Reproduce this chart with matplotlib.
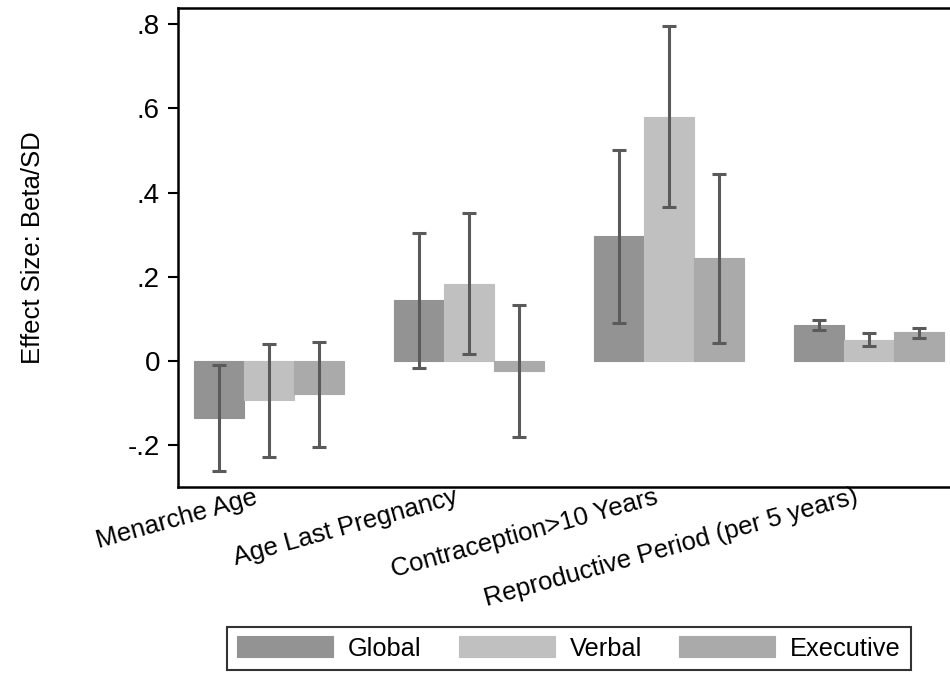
import numpy as np
import matplotlib
matplotlib.use("Agg")
import matplotlib.pyplot as plt
import matplotlib.transforms as mtransforms

plt.rcParams['font.family'] = ['Liberation Sans', 'DejaVu Sans']

categories = ["Menarche Age", "Age Last Pregnancy", "Contraception>10 Years",
              "Reproductive Period (per 5 years)"]
series = ["Global", "Verbal", "Executive"]

global_val = [-0.134, 0.145, 0.297, 0.087]
global_lo = [-0.261, -0.015, 0.091, 0.074]
global_hi = [-0.010, 0.304, 0.501, 0.098]

verbal_val = [-0.093, 0.183, 0.580, 0.050]
verbal_lo = [-0.228, 0.016, 0.365, 0.036]
verbal_hi = [0.040, 0.351, 0.795, 0.066]

exec_val = [-0.078, -0.024, 0.244, 0.069]
exec_lo = [-0.203, -0.180, 0.044, 0.056]
exec_hi = [0.046, 0.133, 0.444, 0.079]

yticks = [-0.2, 0, 0.2, 0.4, 0.6, 0.8]
ytick_labels = ["-.2", "0", ".2", ".4", ".6", ".8"]

colors = ["#939393", "#c0c0c0", "#aaaaaa"]
err_color = "#5a5a5a"

fig = plt.figure(figsize=(9.5, 6.77), dpi=100)
ax = fig.add_axes([178/950, 1-487/677, 782/950, (487-8)/677])

x = np.arange(len(categories))
w = 0.25
vals = [global_val, verbal_val, exec_val]
los = [global_lo, verbal_lo, exec_lo]
his = [global_hi, verbal_hi, exec_hi]

for k in range(3):
    pos = x + (k - 1) * w
    v = np.array(vals[k])
    ax.bar(pos, v, width=w, color=colors[k], edgecolor=colors[k], linewidth=0.8,
           label=series[k], zorder=2)
    lo = np.array(los[k])
    hi = np.array(his[k])
    ax.errorbar(pos, (lo + hi) / 2, yerr=(hi - lo) / 2, fmt='none', ecolor=err_color,
                elinewidth=2.2, capsize=4.8, capthick=2.2, zorder=3)

ax.set_xlim(-0.455, 3.455)
ax.set_ylim(-0.2985, 0.838)
ax.set_yticks(yticks)
ax.set_yticklabels(ytick_labels, fontsize=20)
ax.set_ylabel("Effect Size: Beta/SD", fontsize=18.5, va='center')
ax.yaxis.set_label_coords(-0.185, 0.5)

ax.set_xticks(x)
ax.set_xticklabels(categories, rotation=15.5, ha='right', rotation_mode='anchor', fontsize=18.5)
ax.tick_params(axis='x', length=0, pad=0)
ax.tick_params(axis='y', length=7, width=1.5, direction='out', pad=6)
shift = mtransforms.ScaledTranslation(-15/100, 2/100, fig.dpi_scale_trans)
for lab in ax.get_xticklabels():
    lab.set_transform(lab.get_transform() + shift)

for s in ['left', 'bottom', 'top']:
    ax.spines[s].set_linewidth(1.8)
ax.spines['right'].set_visible(False)

leg = fig.legend(loc='center', bbox_to_anchor=(569/950, 1-648.5/677), ncol=3,
                 fontsize=18.3, frameon=True, fancybox=False, edgecolor='black',
                 handlelength=3.78, handleheight=0.9, handletextpad=0.59,
                 columnspacing=1.46, borderpad=0.38)
leg.get_frame().set_linewidth(1.5)

fig.savefig("out.png", dpi=100)
